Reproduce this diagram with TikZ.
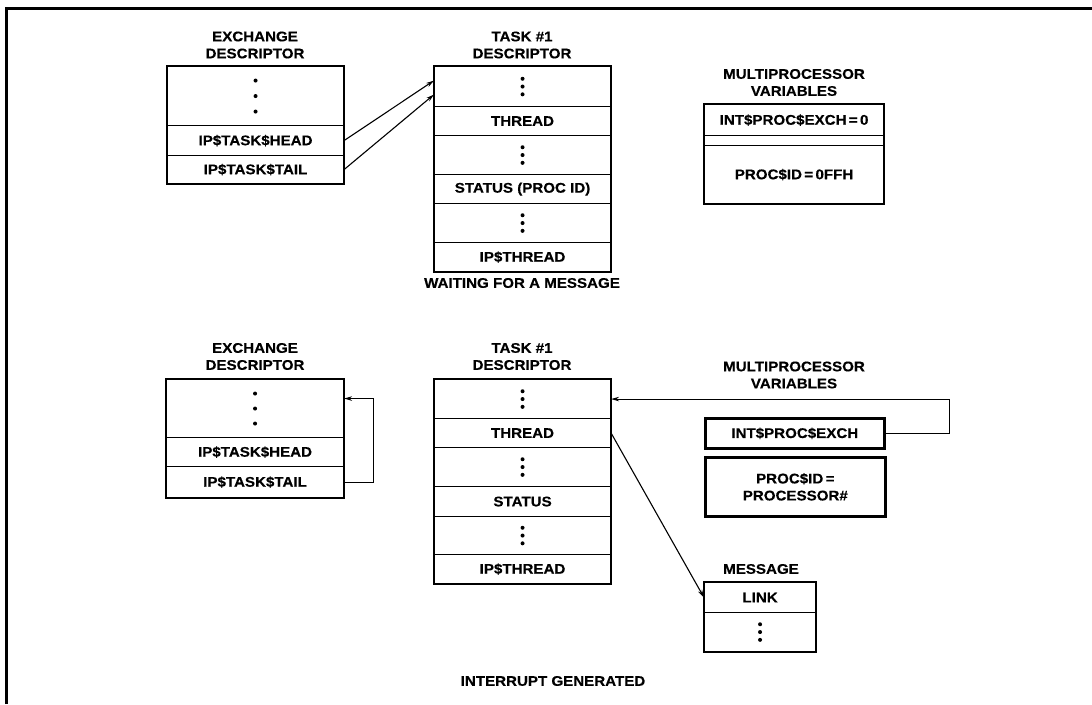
\documentclass[tikz,border=0pt]{standalone}
\usepackage{fontspec}
\setsansfont{Liberation Sans}[FakeStretch=1.08, BoldFeatures={FakeBold=0.35}]
\usetikzlibrary{arrows.meta}
\newcommand\threedots[2]{\foreach \dd in {-1,0,1}{\fill ([yshift=\dd*#2pt]#1) circle (2pt);}}
\begin{document}
\begin{tikzpicture}[x=1pt,y=-1pt,
  lbl/.style={font=\sffamily\bfseries\fontsize{14}{17}\selectfont, align=center, inner sep=0pt},
  cell/.style={lbl, draw, line width=1.1pt, anchor=north west, inner sep=0pt},
  boxcell/.style={cell, line width=2.6pt},
  outer/.style={line width=2.6pt},
  ptr/.style={line width=1.1pt, -{Stealth[length=8pt,width=4.5pt]}}]
\useasboundingbox (0,0) rectangle (1092,704);
\fill[white] (0,0) rectangle (1092,704);
% frame
\draw[line width=2.2pt] (6.5,704) -- (6.5,8.5) -- (1092,8.5);

% ===== TOP: WAITING FOR A MESSAGE =====
% exchange descriptor
\node[lbl] (etitle) at (255,45) {EXCHANGE\\DESCRIPTOR};
\node[cell, minimum width=176, minimum height=59] (ea) at (167,66) {};
\node[cell, minimum width=176, minimum height=30] (eb) at (167,125) {IP\$TASK\$HEAD};
\node[cell, minimum width=176, minimum height=28] (ec) at (167,155) {IP\$TASK\$TAIL};
\draw[outer] (ea.north west) rectangle (ec.south east);
\threedots{ea.center}{15.5}

% task descriptor
\node[lbl] (ttitle) at (522,45) {TASK \#1\\DESCRIPTOR};
\node[cell, minimum width=176, minimum height=40] (ta) at (434,66) {};
\node[cell, minimum width=176, minimum height=29] (tb) at (434,106) {THREAD};
\node[cell, minimum width=176, minimum height=39] (tc) at (434,135) {};
\node[cell, minimum width=176, minimum height=29] (td) at (434,174) {STATUS (PROC ID)};
\node[cell, minimum width=176, minimum height=39] (te) at (434,203) {};
\node[cell, minimum width=176, minimum height=29] (tf) at (434,242) {IP\$THREAD};
\draw[outer] (ta.north west) rectangle (tf.south east);
\threedots{ta.center}{7.8}
\threedots{tc.center}{7.8}
\threedots{te.center}{7.8}
\node[lbl] (cap1) at (522,283) {WAITING FOR A MESSAGE};

\draw[ptr] (eb.east) -- ([yshift=6pt]ta.west);
\draw[ptr] (ec.east) -- ([yshift=-8pt]ta.west);

% multiprocessor variables
\node[lbl] (mtitle) at (794,82.5) {MULTIPROCESSOR\\VARIABLES};
\node[cell, minimum width=179, minimum height=31] (ma) at (704,104) {INT\$PROC\$EXCH\,=\,0};
\node[cell, minimum width=179, minimum height=10] (mb) at (704,135) {};
\node[cell, minimum width=179, minimum height=58] (mc) at (704,145) {PROC\$ID\,=\,0FFH};
\draw[outer] (ma.north west) rectangle (mc.south east);

% ===== BOTTOM: INTERRUPT GENERATED =====
\node[lbl] (Etitle) at (255,356.5) {EXCHANGE\\DESCRIPTOR};
\node[cell, minimum width=177, minimum height=58] (Ea) at (166,379) {};
\node[cell, minimum width=177, minimum height=29] (Eb) at (166,437) {IP\$TASK\$HEAD};
\node[cell, minimum width=177, minimum height=31] (Ec) at (166,466) {IP\$TASK\$TAIL};
\draw[outer] (Ea.north west) rectangle (Ec.south east);
\threedots{Ea.center}{15}
\draw[ptr] (Ec.east) -- ++(29,0) |- ([yshift=10pt]Ea.east);

\node[lbl] (Ttitle) at (522,356.5) {TASK \#1\\DESCRIPTOR};
\node[cell, minimum width=176, minimum height=39] (Ta) at (434,379) {};
\node[cell, minimum width=176, minimum height=29] (Tb) at (434,418) {THREAD};
\node[cell, minimum width=176, minimum height=39] (Tc) at (434,447) {};
\node[cell, minimum width=176, minimum height=30] (Td) at (434,486) {STATUS};
\node[cell, minimum width=176, minimum height=38] (Te) at (434,516) {};
\node[cell, minimum width=176, minimum height=29] (Tf) at (434,554) {IP\$THREAD};
\draw[outer] (Ta.north west) rectangle (Tf.south east);
\threedots{Ta.center}{7.8}
\threedots{Tc.center}{7.8}
\threedots{Te.center}{7.8}

\node[lbl] (Mtitle) at (794,375) {MULTIPROCESSOR\\VARIABLES};
\node[boxcell, minimum width=179, minimum height=30] (Ma) at (704,417) {INT\$PROC\$EXCH};
\node[boxcell, minimum width=180, minimum height=59] (Mb) at (704,456) {PROC\$ID\,=\\PROCESSOR\#};
\draw[ptr] (Ma.east) -- ++(64,0) |- (Ta.east);

\node[lbl] (Gtitle) at (761,569) {MESSAGE};
\node[cell, minimum width=111, minimum height=30] (Ga) at (704,582) {LINK};
\node[cell, minimum width=111, minimum height=39] (Gb) at (704,612) {};
\draw[outer] (Ga.north west) rectangle (Gb.south east);
\threedots{Gb.center}{7.8}
\draw[ptr] (Tb.east) -- (Ga.west);

\node[lbl] (cap2) at (553,681) {INTERRUPT GENERATED};
\end{tikzpicture}
\end{document}
